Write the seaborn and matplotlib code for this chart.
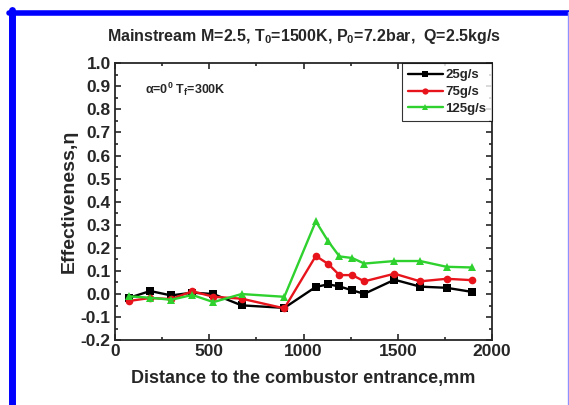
import matplotlib

matplotlib.use('Agg')
import matplotlib.pyplot as plt
from matplotlib.lines import Line2D
from matplotlib.ticker import MultipleLocator
import seaborn as sns
import pandas as pd

# 数据：距燃烧室入口距离 (mm) 与冷却效率
distance = [76, 187, 298, 410, 522, 671, 898, 1065, 1131, 1190, 1258, 1322, 1482, 1618, 1758, 1895]
eta_25 = [-0.016, 0.013, -0.006, 0.006, 0.0, -0.049, -0.060, 0.031, 0.042, 0.033, 0.016, 0.001, 0.062, 0.032, 0.027, 0.009]
eta_75 = [-0.030, -0.017, -0.022, 0.012, -0.012, -0.020, -0.062, 0.165, 0.130, 0.082, 0.082, 0.055, 0.088, 0.055, 0.066, 0.060]
eta_125 = [-0.010, -0.016, -0.025, -0.004, -0.035, 0.000, -0.012, 0.315, 0.228, 0.163, 0.156, 0.132, 0.143, 0.143, 0.118, 0.115]
series_names = ["25g/s", "75g/s", "125g/s"]

df = pd.DataFrame({
    "distance": distance * 3,
    "eta": eta_25 + eta_75 + eta_125,
    "flow": sum([[n] * len(distance) for n in series_names], []),
})

sns.set_style("ticks")
plt.rcParams['font.family'] = ['Liberation Sans', 'DejaVu Sans']
plt.rcParams['font.weight'] = 'bold'
plt.rcParams['mathtext.default'] = 'regular'

fig = plt.figure(figsize=(5.69, 4.05), dpi=100)
ax = fig.add_axes([0.202, 0.160, 0.663, 0.684])

palette = {"25g/s": "black", "75g/s": "#e8141c", "125g/s": "#2ed12e"}
markers = {"25g/s": "s", "75g/s": "o", "125g/s": "^"}
sns.lineplot(data=df, x="distance", y="eta", hue="flow", style="flow",
             palette=palette, markers=markers, dashes=False,
             markersize=5.5, markeredgewidth=0, linewidth=1.7, ax=ax)

ax.set_xlim(0, 2000)
ax.set_ylim(-0.2, 1.0)
ax.xaxis.set_major_locator(MultipleLocator(500))
ax.xaxis.set_minor_locator(MultipleLocator(250))
ax.yaxis.set_major_locator(MultipleLocator(0.1))
ax.yaxis.set_minor_locator(MultipleLocator(0.05))
ax.tick_params(which='both', direction='in', top=True, right=True, width=1.2)
ax.tick_params(which='major', length=4, labelsize=12.5, pad=3)
ax.tick_params(which='minor', length=2.5)
ax.set_xticklabels([f"{int(v)}" for v in ax.get_xticks()])
ax.set_yticklabels([f"{v:.1f}" for v in ax.get_yticks()])
for s in ax.spines.values():
    s.set_linewidth(1.3)

ax.set_xlabel("Distance to the combustor entrance,mm", fontsize=13, fontweight='bold', labelpad=8)
ax.set_ylabel("Effectiveness,\u03b7", fontsize=14, fontweight='bold', labelpad=2)
ax.set_title("Mainstream M=2.5, T$_0$=1500K, P$_0$=7.2bar,  Q=2.5kg/s",
             fontsize=11.5, fontweight='bold', pad=16)
ax.text(0.08, 0.905, "\u03b1=0$^0$ T$_f$=300K", transform=ax.transAxes,
        fontsize=9, fontweight='bold', va='center')

leg = ax.legend(title=None, loc='upper right', fontsize=9.5, frameon=True,
                fancybox=False, edgecolor='black', borderaxespad=0,
                handlelength=2.6, handletextpad=0.2, labelspacing=0.35,
                borderpad=0.45)
leg.get_frame().set_linewidth(0.8)
for t in leg.get_texts():
    t.set_fontweight('bold')
for h in leg.legend_handles:
    h.set_markersize(4.5)

# 外面的蓝色边框
fig.add_artist(Line2D([11.5 / 569, 11.5 / 569], [0, 1 - 10 / 405], color='#0000ff', lw=5, transform=fig.transFigure))
fig.add_artist(Line2D([9 / 569, 1], [1 - 12.5 / 405, 1 - 12.5 / 405], color='#0000ff', lw=4, transform=fig.transFigure))
fig.add_artist(Line2D([568 / 569, 568 / 569], [0, 1 - 12 / 405], color='#9090ff', lw=1, transform=fig.transFigure))

fig.savefig("out.png", dpi=100)
plt.close(fig)
